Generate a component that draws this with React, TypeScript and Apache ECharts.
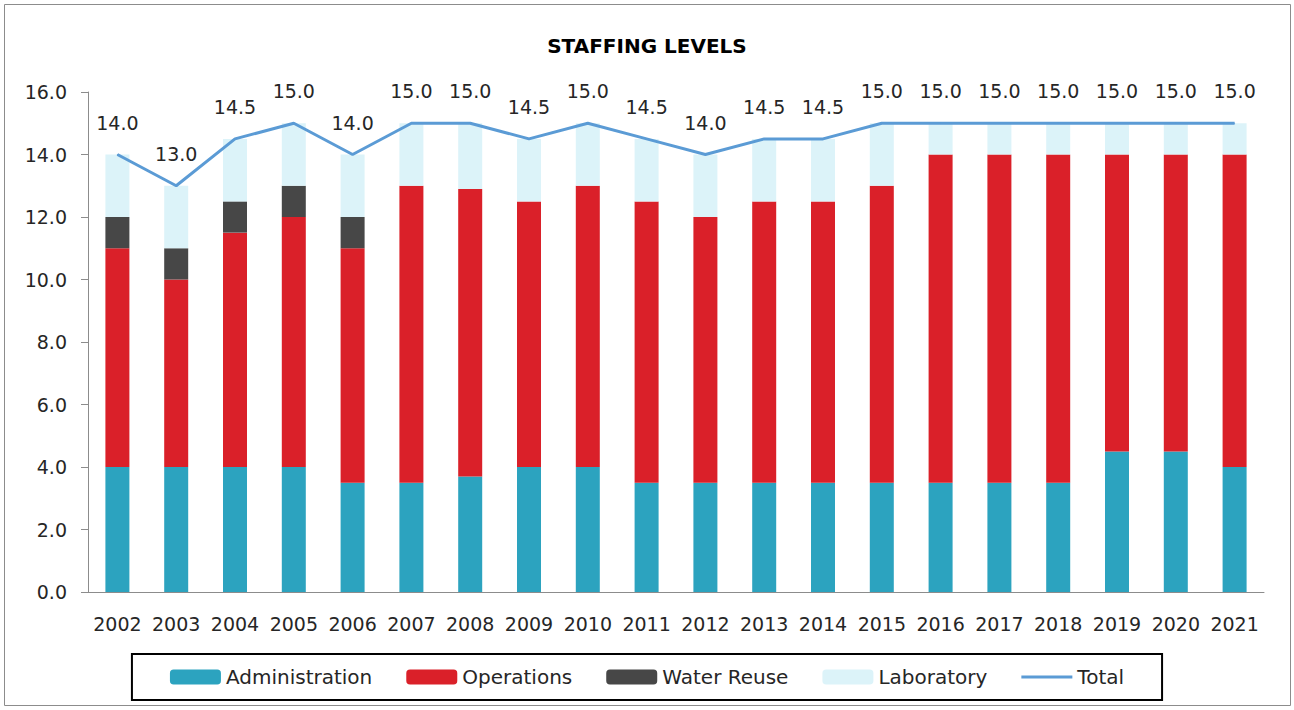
import React, { useEffect, useRef } from "react";
import * as echarts from "echarts";

const years = ["2002","2003","2004","2005","2006","2007","2008","2009","2010","2011","2012","2013","2014","2015","2016","2017","2018","2019","2020","2021"];
const administration = [4, 4, 4, 4, 3.5, 3.5, 3.7, 4, 4, 3.5, 3.5, 3.5, 3.5, 3.5, 3.5, 3.5, 3.5, 4.5, 4.5, 4];
const operations = [7, 6, 7.5, 8, 7.5, 9.5, 9.2, 8.5, 9, 9, 8.5, 9, 9, 9.5, 10.5, 10.5, 10.5, 9.5, 9.5, 10];
const waterReuse = [1, 1, 1, 1, 1, 0, 0, 0, 0, 0, 0, 0, 0, 0, 0, 0, 0, 0, 0, 0];
const laboratory = [2, 2, 2, 2, 2, 2, 2.1, 2, 2, 2, 2, 2, 2, 2, 1, 1, 1, 1, 1, 1];
const total = [14, 13, 14.5, 15, 14, 15, 15, 14.5, 15, 14.5, 14, 14.5, 14.5, 15, 15, 15, 15, 15, 15, 15];

const FONT = "DejaVu Sans";
const TXT = "#262626";

export default function App() {
  const ref = useRef<HTMLDivElement>(null);
  useEffect(() => {
    if (!ref.current) return;
    const chart = echarts.init(ref.current, null, { renderer: "svg" });
    const bar = (name: string, data: number[], color: string) => ({
      name,
      type: "bar",
      stack: "s",
      data,
      barWidth: 24,
      itemStyle: { color },
      emphasis: { disabled: true },
    });
    chart.setOption({
      animation: false,
      backgroundColor: "#fff",
      textStyle: { fontFamily: FONT },
      title: {
        text: "STAFFING LEVELS",
        left: "center",
        top: 31,
        textStyle: { fontFamily: FONT, fontSize: 20, fontWeight: "bold", color: "#000" },
      },
      graphic: [
        {
          type: "rect",
          shape: { x: 4.5, y: 4.5, width: 1286, height: 701 },
          style: { fill: "none", stroke: "#8c8c8c", lineWidth: 1 },
          silent: true,
        },
      ],
      legend: {
        top: 654,
        left: "center",
        padding: [13, 38, 13, 38],
        borderColor: "#000",
        borderWidth: 2,
        itemWidth: 51,
        itemHeight: 15,
        itemGap: 34,
        textStyle: { fontFamily: FONT, fontSize: 20, color: TXT },
        data: [
          { name: "Administration" },
          { name: "Operations" },
          { name: "Water Reuse" },
          { name: "Laboratory" },
          { name: "Total", icon: "path://M0 0H51V3H0Z" },
        ],
      },
      grid: { left: 88, right: 30, top: 92, bottom: 118 },
      xAxis: {
        type: "category",
        data: years,
        axisLine: { lineStyle: { color: "#8c8c8c", width: 1 } },
        axisTick: { length: 7, lineStyle: { color: "#8c8c8c" } },
        axisLabel: { fontFamily: FONT, fontSize: 19, color: TXT, margin: 22, interval: 0 },
      },
      yAxis: {
        type: "value",
        min: 0,
        max: 16,
        interval: 2,
        splitLine: { show: false },
        axisLine: { show: true, lineStyle: { color: "#8c8c8c", width: 1 } },
        axisTick: { show: true, length: 7, lineStyle: { color: "#8c8c8c" } },
        axisLabel: {
          fontFamily: FONT,
          fontSize: 19,
          color: TXT,
          margin: 21,
          formatter: (v: number) => v.toFixed(1),
        },
      },
      series: [
        bar("Administration", administration, "#2CA3BF"),
        bar("Operations", operations, "#DA2029"),
        bar("Water Reuse", waterReuse, "#474747"),
        bar("Laboratory", laboratory, "#DCF3F9"),
        {
          name: "Total",
          type: "line",
          data: total,
          symbol: "circle",
          symbolSize: 1,
          z: 5,
          lineStyle: { color: "#5B9BD5", width: 3 },
          itemStyle: { color: "#5B9BD5" },
          emphasis: { disabled: true },
          label: {
            show: true,
            position: "top",
            distance: 22,
            fontFamily: FONT,
            fontSize: 19,
            color: TXT,
            formatter: (p: any) => Number(p.value).toFixed(1),
          },
        },
      ],
    });
    return () => chart.dispose();
  }, []);
  return (
    <div
      ref={ref}
      style={{ position: "absolute", left: 0, top: 0, width: 1294, height: 710 }}
    />
  );
}
